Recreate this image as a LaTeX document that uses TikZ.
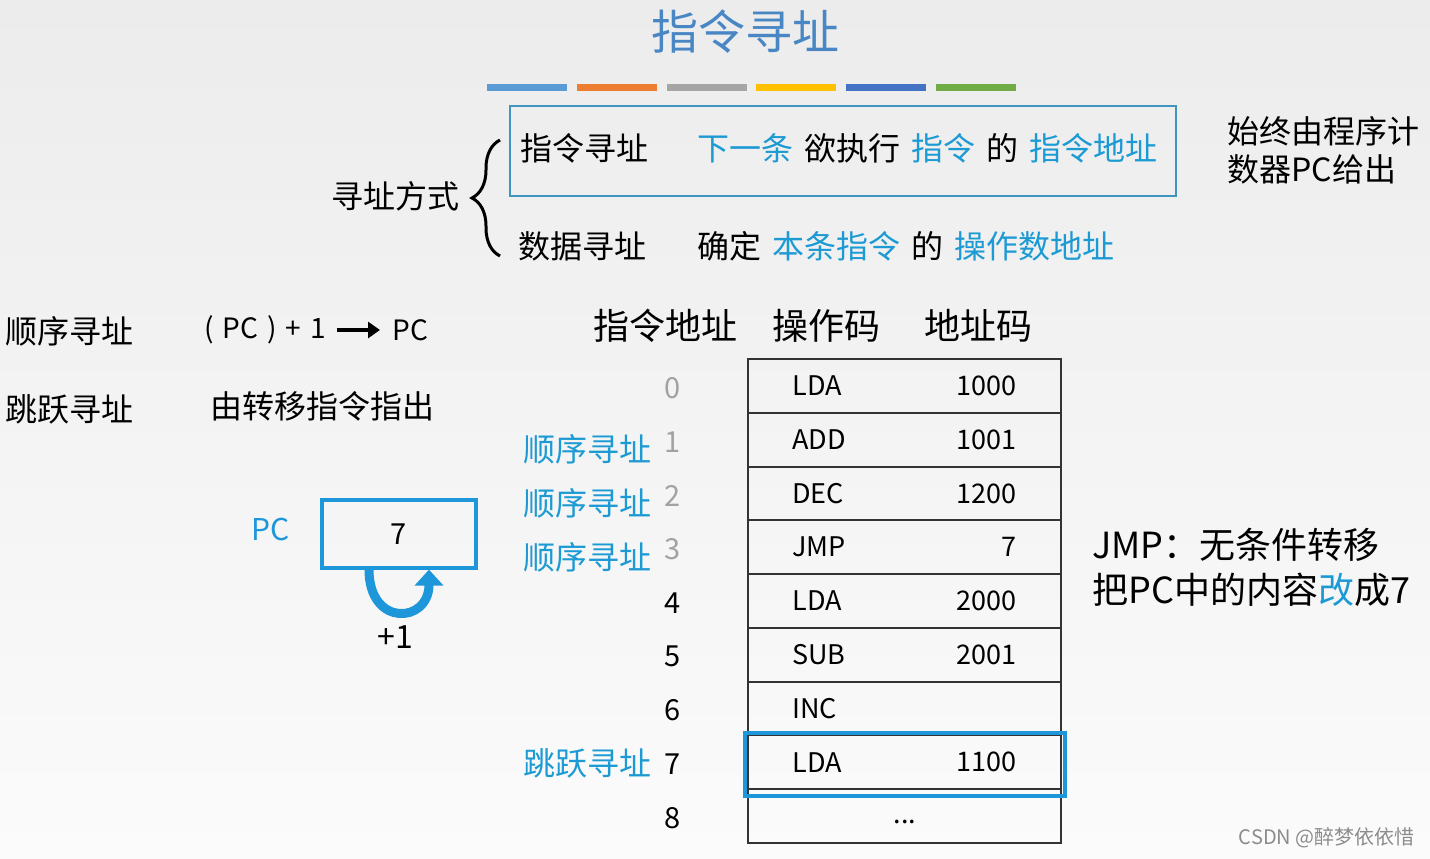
\documentclass[tikz,border=0pt]{standalone}
\usepackage{fontspec}
\setmainfont{Noto Sans CJK SC}
\usetikzlibrary{arrows.meta,decorations.pathreplacing,positioning}
\definecolor{titleblue}{RGB}{72,134,196}
\definecolor{keyblue}{RGB}{28,154,212}
\definecolor{frameblue}{RGB}{62,150,192}
\definecolor{pcblue}{RGB}{30,150,218}
\definecolor{numgrey}{RGB}{162,162,162}
\definecolor{barA}{RGB}{91,155,213}
\definecolor{barB}{RGB}{237,125,49}
\definecolor{barC}{RGB}{165,165,165}
\definecolor{barD}{RGB}{255,192,0}
\definecolor{barE}{RGB}{68,114,196}
\definecolor{barF}{RGB}{112,173,71}
\newcommand{\kw}[1]{\textcolor{keyblue}{#1}}
\newcommand{\gap}{\hskip5.5pt}
\newcommand{\sgap}{\hskip4.5pt}
\tikzset{
  txt/.style={inner sep=0pt, font=\fontsize{16pt}{19pt}\selectfont},
  big/.style={inner sep=0pt, font=\fontsize{18pt}{22pt}\selectfont},
  cell/.style={inner sep=0pt, font=\fontsize{13.5pt}{16pt}\selectfont},
  num/.style={inner sep=0pt, font=\fontsize{14.5pt}{17pt}\selectfont},
  rowbox/.style={draw=black!80, line width=1pt},
  hlbox/.style={draw=pcblue, line width=1.6pt},
}
\begin{document}
\begin{tikzpicture}[x=0.5pt,y=-0.5pt]
  % page and background
  \useasboundingbox (0,0) rectangle (1430,858);
  \shade[top color={rgb,255:red,236;green,236;blue,236}, bottom color={rgb,255:red,251;green,251;blue,251}] (0,0) rectangle (1430,858);
  % title and colour bars
  \node[inner sep=0pt, text=titleblue, font=\fontsize{23.5pt}{28pt}\selectfont] (title) at (745,32) {指令寻址};
  \foreach \c [count=\k from 0] in {barA,barB,barC,barD,barE,barF}
    \fill[\c] ({487+89.8*\k},84) rectangle +(80,7);
  % two kinds of addressing
  \draw[frameblue, line width=1pt] (510,106) rectangle (1176,196);
  \node[txt, anchor=west] (ia) at (520,148) {指令寻址};
  \node[txt, anchor=west] (iadef) at (697,148) {\kw{下一条}\gap 欲执行\gap \kw{指令}\gap 的\gap \kw{指令地址}};
  \node[txt, anchor=west] (da) at (518,246) {数据寻址};
  \node[txt, anchor=west] (dadef) at (697,246) {确定\gap \kw{本条指令}\gap 的\gap \kw{操作数地址}};
  \node[txt, anchor=east] (modes) at (460,196) {寻址方式};
  \draw[line width=1.5pt, decorate, decoration={brace, amplitude=14pt}] (500,256) -- (500,140);
  \node[txt, anchor=north west, align=left] (pcnote) at (1227,116) {始终由程序计\\数器PC给出};
  % sequential and jump
  \node[txt, anchor=west] (seq) at (5,331) {顺序寻址};
  \node[txt, anchor=west] (jmp) at (5,409) {跳跃寻址};
  \node[inner sep=0pt, anchor=west, font=\fontsize{14pt}{17pt}\selectfont] (inc) at (204,330) {(\sgap PC\sgap)\sgap+\sgap 1};
  \node[inner sep=0pt, anchor=west, font=\fontsize{14pt}{17pt}\selectfont] (pcdst) at (392,330) {PC};
  \draw[line width=1.6pt, -{Triangle[width=8pt,length=6pt]}, shorten <=5.5pt, shorten >=6pt] (inc) -- (pcdst);
  \node[txt, anchor=west] (jmpdef) at (210,406) {由转移指令指出};
  % program counter
  \node[draw=pcblue, line width=1.6pt, minimum width=77pt, minimum height=34pt, font=\fontsize{14.5pt}{17pt}\selectfont] (pc) at (399,534) {7};
  \node[inner sep=0pt, text=pcblue, font=\fontsize{15pt}{18pt}\selectfont] (pclbl) at (271,529) {PC};
  \draw[pcblue, line width=4.5pt, -{Triangle[width=14pt,length=8pt]}] ([xshift=-15pt]pc.south) .. controls +(0,-29pt) and +(0,-27pt) .. ([xshift=15pt]pc.south);
  \node[inner sep=0pt, font=\fontsize{16pt}{19pt}\selectfont] (plus) at (395,637) {+1};
  % memory table
  \node[big] (hdaddr) at (665,326) {指令地址};
  \node[big] (hdop) at (826,326) {操作码};
  \node[big] (hdad) at (978,326) {地址码};
  \foreach \op/\ad/\c [count=\i from 0] in {LDA/1000/numgrey, ADD/1001/numgrey, DEC/1200/numgrey, JMP/7/numgrey, LDA/2000/black, SUB/2001/black, INC//black, LDA/1100/black, //black} {
    \draw[rowbox] (748,{359+53.75*\i}) rectangle (1061,{359+53.75*(\i+1)});
    \node[cell, anchor=west] (op\i) at (792,{386+53.75*\i}) {\op};
    \node[cell, anchor=east] (ad\i) at (1017,{386+53.75*\i}) {\ad};
    \node[num, text=\c] (n\i) at (673,{388+53.75*\i}) {\i};
  }
  \node[cell] (more) at (905,822) {...};
  \draw[hlbox] (745,733) rectangle (1065,796);
  \node[txt, anchor=east, text=keyblue] (s1) at (652,449) {顺序寻址};
  \node[txt, anchor=east, text=keyblue] (s2) at (652,503) {顺序寻址};
  \node[txt, anchor=east, text=keyblue] (s3) at (652,557) {顺序寻址};
  \node[txt, anchor=east, text=keyblue] (j7) at (652,763) {跳跃寻址};
  % note on JMP
  \node[big, anchor=west] (jmpnote) at (1092,545) {JMP：无条件转移};
  \node[big, anchor=west] (jmpnote2) at (1092,590) {把PC中的内容\kw{改}成7};
  % watermark
  \node[inner sep=0pt, text=black!45, anchor=east, font=\fontsize{10pt}{12pt}\selectfont] (mark) at (1415,838) {CSDN @醉梦依依惜};
\end{tikzpicture}
\end{document}
